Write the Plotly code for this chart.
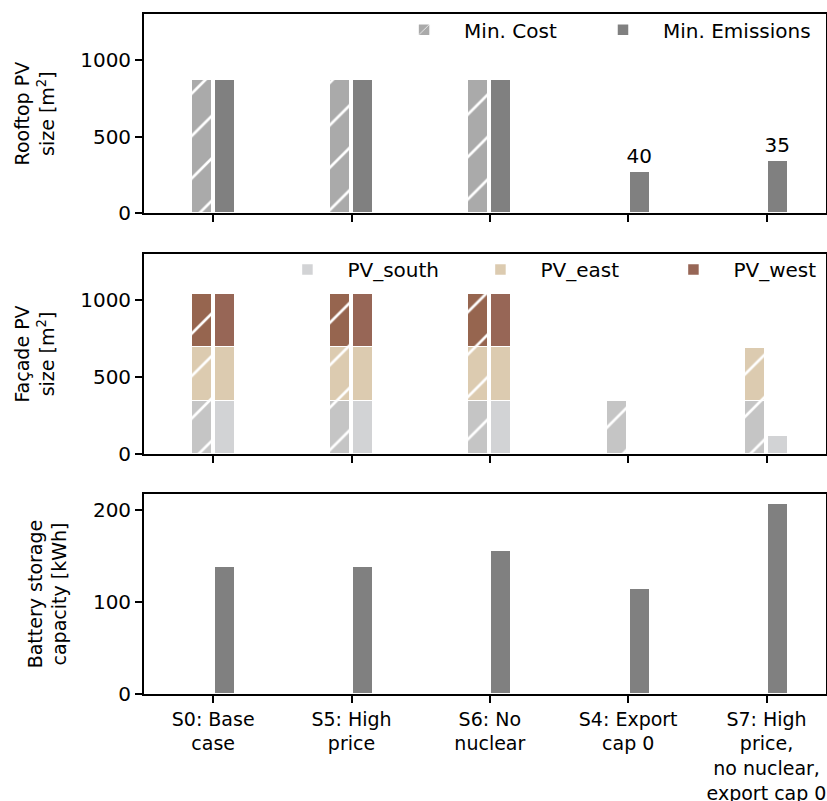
import plotly.graph_objects as go
from plotly.subplots import make_subplots

scenarios = ["S0: Base<br>case", "S5: High<br>price", "S6: No<br>nuclear",
             "S4: Export<br>cap 0", "S7: High<br>price,<br>no nuclear,<br>export cap 0"]

# Rooftop PV size [m2]
roof_cost = [870, 870, 870, 0, 0]
roof_emis = [870, 870, 870, 270, 340]
roof_labels = ["", "", "", "40", "35"]

# Facade PV size [m2] (stacked)
south_cost = [345, 345, 345, 345, 345]
east_cost = [350, 350, 350, 0, 345]
west_cost = [345, 345, 345, 0, 0]
south_emis = [345, 345, 345, 0, 115]
east_emis = [350, 350, 350, 0, 0]
west_emis = [345, 345, 345, 0, 0]

# Battery storage capacity [kWh]
battery_emis = [138, 138, 155, 114, 206]

FONT = "DejaVu Sans"
W = 0.145
OFF = 0.083
idx = list(range(len(scenarios)))
x_cost = [i - OFF for i in idx]
x_emis = [i + OFF for i in idx]

C_COST = "#aaaaaa"
C_EMIS = "#808080"
C_SOUTH_COST = "#c5c5c5"
C_SOUTH = "#d2d3d5"
C_EAST = "#dccbb0"
C_WEST_COST = "#96654f"
C_WEST = "#976656"

fig = make_subplots(rows=3, cols=1, shared_xaxes=False, vertical_spacing=0.06)

def hatch(bg):
    return dict(shape="/", fgcolor="white", bgcolor=bg, size=30, solidity=0.09, fillmode="replace")

edge = dict(color="white", width=1.5)

# Panel 1
fig.add_trace(go.Bar(x=x_cost, y=roof_cost, width=W, name="Min. Cost",
                     marker=dict(color=C_COST, pattern=hatch(C_COST), line=edge),
                     legend="legend"), row=1, col=1)
fig.add_trace(go.Bar(x=x_emis, y=roof_emis, width=W, name="Min. Emissions",
                     marker=dict(color=C_EMIS, line=edge), text=roof_labels,
                     textposition="outside", cliponaxis=False, constraintext="none",
                     textfont=dict(size=20, color="black", family=FONT),
                     legend="legend3"), row=1, col=1)

# Panel 2
for vals, col, name in [(south_cost, C_SOUTH_COST, "PV_south"),
                        (east_cost, C_EAST, "PV_east"),
                        (west_cost, C_WEST_COST, "PV_west")]:
    fig.add_trace(go.Bar(x=x_cost, y=vals, width=W, name=name, showlegend=False,
                         marker=dict(color=col, pattern=hatch(col), line=edge),
                         legend="legend2"), row=2, col=1)
for vals, col, name in [(south_emis, C_SOUTH, "PV_south"),
                        (east_emis, C_EAST, "PV_east"),
                        (west_emis, C_WEST, "PV_west")]:
    fig.add_trace(go.Bar(x=x_emis, y=vals, width=W, name=name,
                         marker=dict(color=col, line=edge),
                         legend="legend2"), row=2, col=1)

# Panel 3
fig.add_trace(go.Bar(x=x_emis, y=battery_emis, width=W, name="Min. Emissions",
                     showlegend=False, marker=dict(color=C_EMIS, line=edge)), row=3, col=1)

doms = [[0.707, 1.0], [0.353, 0.647], [0.0, 0.294]]
yranges = [[0, 1300], [0, 1300], [0, 217]]
ytick = [[0, 500, 1000], [0, 500, 1000], [0, 100, 200]]
ytitles = ["Rooftop PV<br>size [m<sup>2</sup>]", "Façade PV<br>size [m<sup>2</sup>]",
           "Battery storage<br>capacity [kWh]"]

axis_common = dict(showline=True, linecolor="black", linewidth=1.8, mirror=True,
                   ticks="outside", ticklen=7, tickwidth=1.5, tickcolor="black",
                   showgrid=False, zeroline=False, automargin=False)

for r in range(3):
    xa = "xaxis" if r == 0 else f"xaxis{r+1}"
    ya = "yaxis" if r == 0 else f"yaxis{r+1}"
    fig.layout[xa].update(**axis_common, range=[-0.5, 4.43], tickmode="array",
                          tickvals=idx, ticktext=scenarios,
                          tickfont=dict(family=FONT, size=19, color="black"),
                          showticklabels=(r == 2))
    fig.layout[ya].update(**axis_common, domain=doms[r], range=yranges[r],
                          tickmode="array", tickvals=ytick[r],
                          tickfont=dict(family=FONT, size=20, color="black"),
                          title=dict(text=ytitles[r], standoff=21,
                                     font=dict(family=FONT, size=19, color="black")))
    fig.layout[xa].update(anchor="y" if r == 0 else f"y{r+1}")

leg_common = dict(orientation="h", xanchor="left", yanchor="top",
                  bgcolor="rgba(0,0,0,0)", font=dict(family=FONT, size=20, color="black"),
                  itemwidth=70, tracegroupgap=0, traceorder="normal")
fig.update_layout(
    barmode="stack",
    width=827, height=801,
    margin=dict(l=144, r=1, t=14, b=107, autoexpand=False),
    plot_bgcolor="white", paper_bgcolor="white",
    font=dict(family=FONT, size=19, color="black"),
    legend=dict(**leg_common, x=0.352, y=1.0056),
    legend3=dict(**leg_common, x=0.6437, y=1.0056),
    legend2=dict(**leg_common, x=0.181, y=0.653, entrywidthmode="pixels", entrywidth=108),
    bargap=0,
)

fig.write_html("out.html", config={"displayModeBar": False},
               post_script="document.body.style.margin='0';document.body.style.overflow='hidden';")
